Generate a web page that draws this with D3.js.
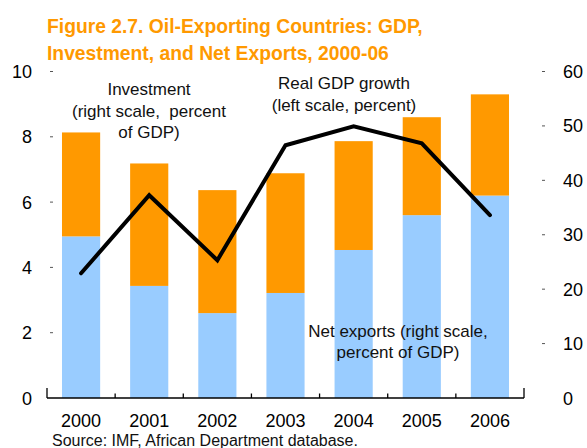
<!DOCTYPE html>
<html><head><meta charset="utf-8">
<script src="https://cdn.jsdelivr.net/npm/d3@7"></script>
<style>
html,body{margin:0;padding:0;background:#fff;}
svg{display:block;font-family:"Liberation Sans",Arial,sans-serif;}
</style></head>
<body>
<svg id="chart" width="587" height="448"></svg>
<script>
const years = ["2000","2001","2002","2003","2004","2005","2006"];
const netExports = [29.7, 20.6, 15.6, 19.3, 27.2, 33.6, 37.2];
const investment = [19.1, 22.5, 22.6, 22.0, 20.0, 18.0, 18.6];
const gdpGrowth = [3.82, 6.21, 4.22, 7.74, 8.32, 7.80, 5.60];
const leftTicks = [0, 2, 4, 6, 8, 10];
const rightTicks = [0, 10, 20, 30, 40, 50, 60];
const titleLines = ["Figure 2.7. Oil-Exporting Countries: GDP,", "Investment, and Net Exports, 2000-06"];

const svg = d3.select("#chart");
const plotLeft = 47, plotRight = 524, plotTop = 71.5, plotBottom = 398;

const x = d3.scaleBand().domain(years).range([plotLeft, plotRight]).paddingInner(0.44).paddingOuter(0.22);
const xb = d3.scaleBand().domain(years).range([plotLeft, plotRight]);
const yL = d3.scaleLinear().domain([0, 10]).range([plotBottom, plotTop]);
const yR = d3.scaleLinear().domain([0, 60]).range([plotBottom, plotTop]);

const orange = "#FF9900", blue = "#99CCFF";

// title
svg.append("g").selectAll("text").data(titleLines).join("text")
  .attr("x", 47).attr("y", (d, i) => 33 + i * 27)
  .attr("fill", orange).attr("font-weight", "bold").attr("font-size", 19.3)
  .text(d => d);

// stacked bars
const stackData = years.map((y, i) => ({year: y, net: netExports[i], inv: investment[i]}));
const stack = d3.stack().keys(["net", "inv"])(stackData);
const colors = {net: blue, inv: orange};
svg.append("g").selectAll("g").data(stack).join("g")
  .attr("fill", d => colors[d.key])
  .selectAll("rect").data(d => d).join("rect")
  .attr("x", d => x(d.data.year))
  .attr("width", x.bandwidth())
  .attr("y", d => yR(d[1]))
  .attr("height", d => yR(d[0]) - yR(d[1]));

// GDP line
const line = d3.line().x((d, i) => xb(years[i]) + xb.bandwidth() / 2).y(d => yL(d));
svg.append("path").datum(gdpGrowth).attr("d", line)
  .attr("fill", "none").attr("stroke", "#000").attr("stroke-width", 4)
  .attr("stroke-linejoin", "miter").attr("stroke-linecap", "round");

// left axis
const gl = svg.append("g").attr("font-size", 18);
gl.selectAll("line").data(leftTicks.filter(d => d > 0)).join("line")
  .attr("x1", 50).attr("x2", 53).attr("y1", d => yL(d)).attr("y2", d => yL(d))
  .attr("stroke", "#555").attr("stroke-width", 1);
gl.selectAll("text").data(leftTicks).join("text")
  .attr("x", 32).attr("y", d => yL(d) + 6.5).attr("text-anchor", "end").text(d => d);

// right axis
const gr = svg.append("g").attr("font-size", 18);
gr.selectAll("line").data(rightTicks.filter(d => d > 0)).join("line")
  .attr("x1", 542).attr("x2", 545).attr("y1", d => yR(d)).attr("y2", d => yR(d))
  .attr("stroke", "#555").attr("stroke-width", 1);
gr.selectAll("text").data(rightTicks).join("text")
  .attr("x", 563).attr("y", d => yR(d) + 6.5).attr("text-anchor", "start").text(d => d);

// x axis
const gx = svg.append("g");
gx.append("line").attr("x1", plotLeft).attr("x2", plotRight).attr("y1", plotBottom).attr("y2", plotBottom)
  .attr("stroke", "#000").attr("stroke-width", 1.3);
const bounds = years.map(y => xb(y)).concat([plotRight]);
gx.selectAll("line.t").data(bounds).join("line").attr("class", "t")
  .attr("x1", d => d).attr("x2", d => d)
  .attr("y1", (d, i) => (i === 0 || i === bounds.length - 1) ? plotBottom - 10 : plotBottom - 4.5)
  .attr("y2", plotBottom).attr("stroke", "#000").attr("stroke-width", 1.3);
gx.selectAll("text").data(years).join("text")
  .attr("x", d => xb(d) + xb.bandwidth() / 2).attr("y", 427)
  .attr("text-anchor", "middle").attr("font-size", 18).text(d => d);

// annotations
const ann = [
  {x: 149, y: 95, t: "Investment"},
  {x: 149, y: 117, t: "(right scale,  percent"},
  {x: 149, y: 138, t: "of GDP)"},
  {x: 344, y: 89, t: "Real GDP growth"},
  {x: 344, y: 111, t: "(left scale, percent)"},
  {x: 398, y: 337, t: "Net exports (right scale,"},
  {x: 398, y: 358, t: "percent of GDP)"}
];
svg.append("g").selectAll("text").data(ann).join("text")
  .attr("x", d => d.x).attr("y", d => d.y).attr("text-anchor", "middle")
  .attr("font-size", 17).attr("fill", "#111").style("white-space", "pre").text(d => d.t);

// source
svg.append("text").attr("x", 52).attr("y", 446).attr("font-size", 16).attr("fill", "#111")
  .text("Source: IMF, African Department database.");
</script>
</body></html>
